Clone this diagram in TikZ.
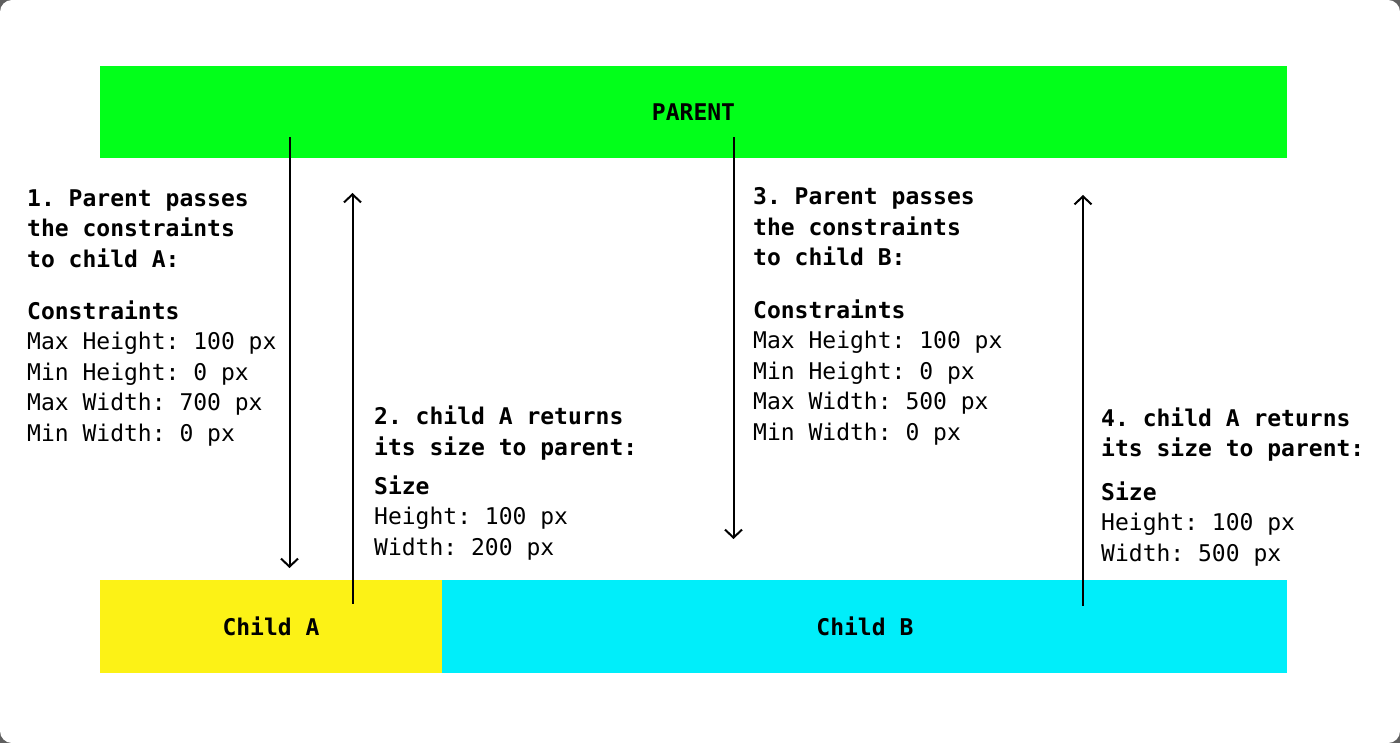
\documentclass[tikz,border=0pt]{standalone}
\usepackage{fontspec}
\setmonofont{DejaVu Sans Mono}
\usetikzlibrary{positioning,arrows.meta}
\definecolor{parentgreen}{RGB}{2,255,26}
\definecolor{childyellow}{RGB}{252,242,22}
\definecolor{childcyan}{RGB}{0,238,250}
\definecolor{framegray}{RGB}{95,95,95}
\begin{document}
\begin{tikzpicture}[x=1pt, y=-1pt]
    % Define Styles
        \tikzstyle{block} = [
            rectangle,
            draw = none,
            inner sep = 0pt,
            minimum height = 92pt,
            font = \ttfamily\bfseries\fontsize{23}{28}\selectfont
        ]
        \tikzstyle{note} = [
            inner sep = 0pt,
            anchor = base west,
            align = left,
            font = \ttfamily\fontsize{23}{30.5}\selectfont
        ]
        \tikzstyle{line} = [
            draw,
            line width = 2pt,
            -{Straight Barb[length=8pt, width=17pt, line width=2pt]}
        ]
    % Frame
        \fill [framegray] (0,0) rectangle (1400,743);
        \fill [white, rounded corners=12pt] (0,0) rectangle (1400,743);
        \useasboundingbox (0,0) rectangle (1400,743);
    % Place nodes
        \node [block, fill=parentgreen, minimum width=1187pt] (parent) at (693.5,112) {PARENT};
        \node [block, fill=childyellow, minimum width=342pt, minimum height=93pt] (childA) at (271,626.5) {Child A};
        \node [block, fill=childcyan, minimum width=845pt, minimum height=93pt, right=0pt of childA] (childB) {Child B};
        % (base = last line)
        \node [note] (passA) at (27,441) {%
            \textbf{1. Parent passes}\\
            \textbf{the constraints}\\
            \textbf{to child A:}\\[21.5pt]
            \textbf{Constraints}\\
            Max Height: 100 px\\
            Min Height: 0 px\\
            Max Width: 700 px\\
            Min Width: 0 px
        };
        \node [note] (returnA) at (374,555) {%
            \textbf{2. child A returns}\\
            \textbf{its size to parent:}\\[8.5pt]
            \textbf{Size}\\
            Height: 100 px\\
            Width: 200 px
        };
        \node [note] (passB) at (753,440) {%
            \textbf{3. Parent passes}\\
            \textbf{the constraints}\\
            \textbf{to child B:}\\[22pt]
            \textbf{Constraints}\\
            Max Height: 100 px\\
            Min Height: 0 px\\
            Max Width: 500 px\\
            Min Width: 0 px
        };
        \node [note] (returnB) at (1101,561) {%
            \textbf{4. child A returns}\\
            \textbf{its size to parent:}\\[13pt]
            \textbf{Size}\\
            Height: 100 px\\
            Width: 500 px
        };
    % Arrow ends
        \coordinate (downA) at (289.5,568);
        \coordinate (upA) at (352.5,193);
        \coordinate (downB) at (733.5,539);
        \coordinate (upB) at (1083,195);
    % Draw edges
        \path [line] ([yshift=21pt]parent.south -| downA) -- (downA);
        \path [line] ([yshift=-24pt]childA.north -| upA) -- (upA);
        \path [line] ([yshift=21pt]parent.south -| downB) -- (downB);
        \path [line] ([yshift=-26pt]childB.north -| upB) -- (upB);
\end{tikzpicture}
\end{document}
